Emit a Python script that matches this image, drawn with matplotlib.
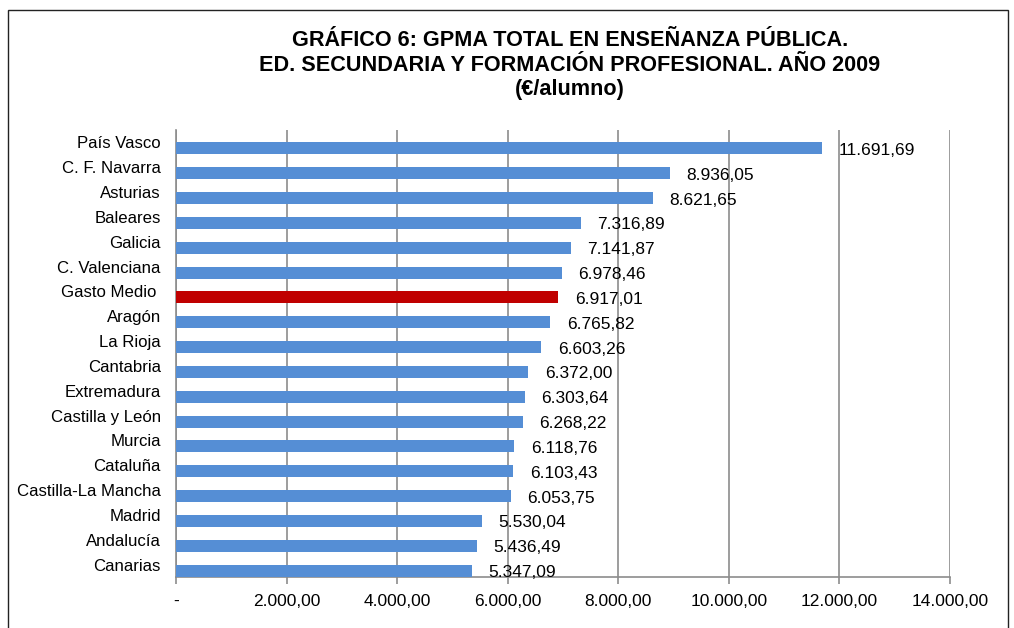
import matplotlib.pyplot as plt
from matplotlib.patches import Rectangle

plt.rcParams['font.family'] = ['Liberation Sans', 'DejaVu Sans']

regions = ['País Vasco', 'C. F. Navarra', 'Asturias', 'Baleares', 'Galicia',
           'C. Valenciana', 'Gasto Medio ', 'Aragón', 'La Rioja', 'Cantabria',
           'Extremadura', 'Castilla y León', 'Murcia', 'Cataluña',
           'Castilla-La Mancha', 'Madrid', 'Andalucía', 'Canarias']
gasto = [11691.69, 8936.05, 8621.65, 7316.89, 7141.87, 6978.46, 6917.01,
         6765.82, 6603.26, 6372.00, 6303.64, 6268.22, 6118.76, 6103.43,
         6053.75, 5530.04, 5436.49, 5347.09]
x_ticks = [0, 2000, 4000, 6000, 8000, 10000, 12000, 14000]

BLUE = '#558ED5'
RED = '#C00000'
GRID = '#8C8C8C'


def es_fmt(v):
    # spanish number format: 11.691,69
    s = f'{v:,.2f}'
    return s.replace(',', 'X').replace('.', ',').replace('X', '.')


fig = plt.figure(figsize=(10.14, 6.28), dpi=100)
ax = fig.add_axes([0.1736, 0.0812, 0.7633, 0.7118])

# frame around the whole chart
fig.patches.append(Rectangle((8 / 1014, -0.05), 1000 / 1014, 1.05 - 10 / 628,
                             transform=fig.transFigure, fill=False,
                             edgecolor='#222222', lw=1.0))

pos = list(range(len(regions)))
colors = [RED if r.strip() == 'Gasto Medio' else BLUE for r in regions]
bar_pos = [p + 0.24 for p in pos]
ax.barh(bar_pos, gasto, height=0.48, color=colors, zorder=3)

for y, v in zip(bar_pos, gasto):
    ax.annotate(es_fmt(v), xy=(v, y), xytext=(12, -1.5),
                textcoords='offset points', va='center', ha='left',
                fontsize=12.5, color='black', zorder=4)

ax.set_ylim(len(regions) - 0.5, -0.5)
ax.set_xlim(0, 14000)
ax.set_yticks(pos)
ax.set_yticklabels(regions, fontsize=12.1)
ax.tick_params(axis='y', length=0, pad=11)

ax.set_xticks(x_ticks)
ax.set_xticklabels(['-'] + [es_fmt(t) for t in x_ticks[1:]], fontsize=12.5)
ax.tick_params(axis='x', length=5, color=GRID, width=1.2, pad=7)

ax.grid(axis='x', color=GRID, lw=1.2, zorder=0)
for s in ['top', 'right']:
    ax.spines[s].set_visible(False)
for s in ['left', 'bottom']:
    ax.spines[s].set_color(GRID)
    ax.spines[s].set_linewidth(1.2)

fig.text(0.562, 0.952,
         'GRÁFICO 6: GPMA TOTAL EN ENSEÑANZA PÚBLICA.\n'
         'ED. SECUNDARIA Y FORMACIÓN PROFESIONAL. AÑO 2009\n'
         '(€/alumno)',
         ha='center', va='top', fontsize=15.6, fontweight='bold',
         linespacing=1.22)

fig.savefig('out.png', dpi=100)
